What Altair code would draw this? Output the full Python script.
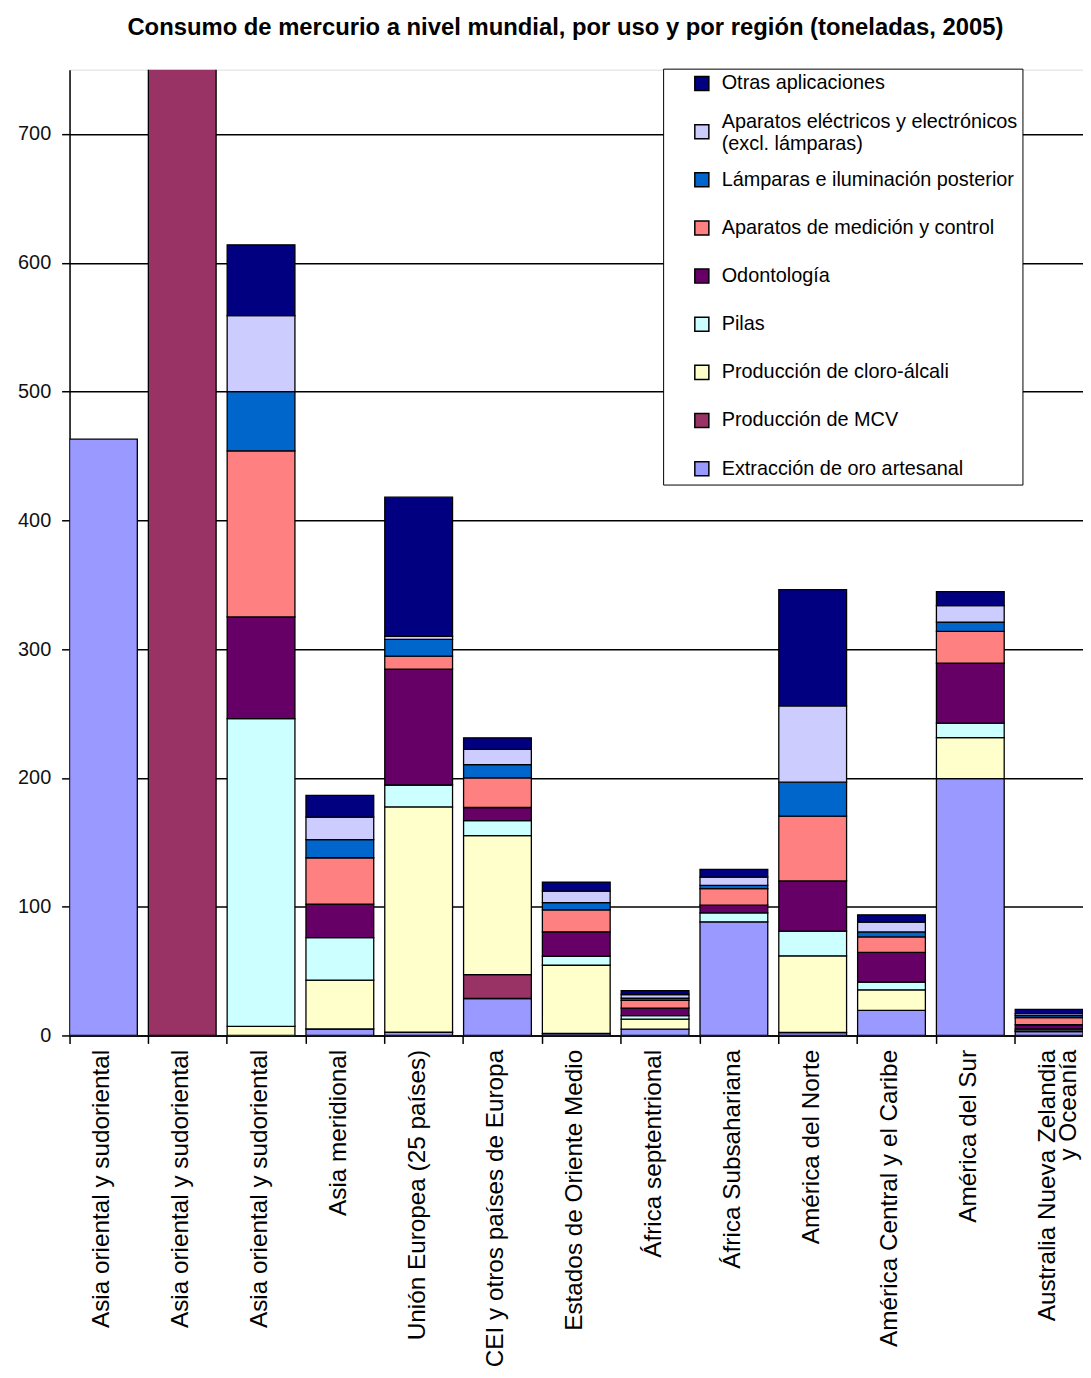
import json
import altair as alt
import pandas as pd

# Categorías del eje X (las tres primeras comparten nombre en el original)
regiones = [
    "Asia oriental y sudoriental",
    "Asia oriental y sudoriental",
    "Asia oriental y sudoriental",
    "Asia meridional",
    "Unión Europea (25 países)",
    "CEI y otros países de Europa",
    "Estados de Oriente Medio",
    "África septentrional",
    "África Subsahariana",
    "América del Norte",
    "América Central y el Caribe",
    "América del Sur",
    "Australia Nueva Zelandia\ny Oceanía",
]

# Usos, de abajo hacia arriba en la pila
usos = [
    "Extracción de oro artesanal",
    "Producción de MCV",
    "Producción de cloro-álcali",
    "Pilas",
    "Odontología",
    "Aparatos de medición y control",
    "Lámparas e iluminación posterior",
    "Aparatos eléctricos y electrónicos\n(excl. lámparas)",
    "Otras aplicaciones",
]
colores = ["#9999FF", "#993366", "#FFFFCC", "#CCFFFF", "#660066",
           "#FF8080", "#0066CC", "#CCCCFF", "#000080"]

# Valores (toneladas) por región, en el orden de 'regiones'
oro        = [463, 0, 0, 5, 2.5, 28.7, 1.5, 4.9, 88.2, 2.3, 19.5, 199.5, 3]
mcv        = [0, 770, 0, 0, 0, 18.5, 0, 0, 0, 0, 0, 0, 0]
cloro      = [0, 0, 7, 38, 175, 108, 53, 7.7, 0, 59.5, 15.9, 31.8, 0.5]
pilas      = [0, 0, 239, 33, 17, 11.6, 7, 2.8, 7, 19.2, 6.1, 11.3, 1.5]
odont      = [0, 0, 79, 26, 90, 10.2, 19, 5.9, 6, 39, 23, 46.6, 3.3]
medicion   = [0, 0, 129, 36, 10, 23, 17, 5.9, 12.8, 50.3, 12, 24.6, 5.6]
lamparas   = [0, 0, 46, 14, 13, 10.3, 5.6, 1.8, 2.6, 26.4, 3.9, 7.2, 1.5]
electricos = [0, 0, 59, 17.5, 2.5, 11.8, 9, 2.8, 6.4, 59.2, 7.7, 12.8, 1.6]
otras      = [0, 0, 55, 17, 108, 9, 7, 3, 6, 90.3, 5.6, 10.8, 3.3]

series = [oro, mcv, cloro, pilas, odont, medicion, lamparas, electricos, otras]
ticks_y = [0, 100, 200, 300, 400, 500, 600, 700]

rows = []
for k, (uso, vals) in enumerate(zip(usos, series)):
    for i, v in enumerate(vals):
        if v > 0:
            rows.append({"idx": i, "uso": uso, "orden": k, "valor": v})
df = pd.DataFrame(rows)

leyenda = list(reversed(usos))
colores_leyenda = list(reversed(colores))

x_label_expr = "split(" + json.dumps(regiones, ensure_ascii=False) + "[datum.value], '\\n')"

FONT = "Liberation Sans"

chart = alt.Chart(df).mark_bar(stroke="black", strokeWidth=1.3, clip=True).encode(
    x=alt.X(
        "idx:O",
        scale=alt.Scale(paddingInner=0.14, paddingOuter=0),
        axis=alt.Axis(
            title=None, labelAngle=-90, bandPosition=0, labelOffset=-1,
            labelExpr=x_label_expr, labelFontSize=24.5, labelFont=FONT,
            labelLineHeight=21,
            labelColor="black", labelPadding=6, labelLimit=600,
            tickSize=8, tickColor="black", tickWidth=1.5,
            domainColor="black", domainWidth=1.5, grid=False,
        ),
    ),
    y=alt.Y(
        "valor:Q", stack="zero",
        scale=alt.Scale(domain=[0, 750], nice=False),
        axis=alt.Axis(
            title=None, values=ticks_y, labelFontSize=20, labelFont=FONT,
            labelColor="#111111", labelPadding=11, tickSize=8,
            tickColor="black", tickWidth=1.5, domainColor="black",
            domainWidth=1.5, grid=True, gridColor="black", gridWidth=1.5,
        ),
    ),
    color=alt.Color(
        "uso:N",
        scale=alt.Scale(domain=leyenda, range=colores_leyenda),
        legend=alt.Legend(
            title=None, orient="none", legendX=598, legendY=-1,
            fillColor="white", strokeColor="black", padding=5,
            symbolType="square", symbolSize=200, symbolStrokeColor="black",
            symbolStrokeWidth=1.5, symbolOffset=24, labelFont=FONT,
            labelFontSize=20, labelColor="black", labelLimit=800,
            labelOffset=10, rowPadding=6.5, gridAlign="all",
            labelExpr="split(datum.label, '\\n')",
            labelBaseline=alt.ExprRef(
                "indexof(datum.label, '\\n') >= 0 ? 'bottom' : 'middle'"
            ),
        ),
    ),
    order=alt.Order("orden:Q", sort="ascending"),
).properties(
    width=1021,
    height=973,
    title=alt.TitleParams(
        "Consumo de mercurio a nivel mundial, por uso y por región (toneladas, 2005)",
        font=FONT, fontSize=24, fontWeight="bold", color="black",
        anchor="middle", dx=-11, offset=28,
    ),
    padding={"left": 62, "top": 57, "right": 0, "bottom": 340},
    autosize=alt.AutoSizeParams(type="none"),
).configure_view(
    fill="#C0C0C0", stroke="black", strokeWidth=1.5
).configure(background="white")

chart.save("out.html", embed_options={"renderer": "svg", "actions": False})
